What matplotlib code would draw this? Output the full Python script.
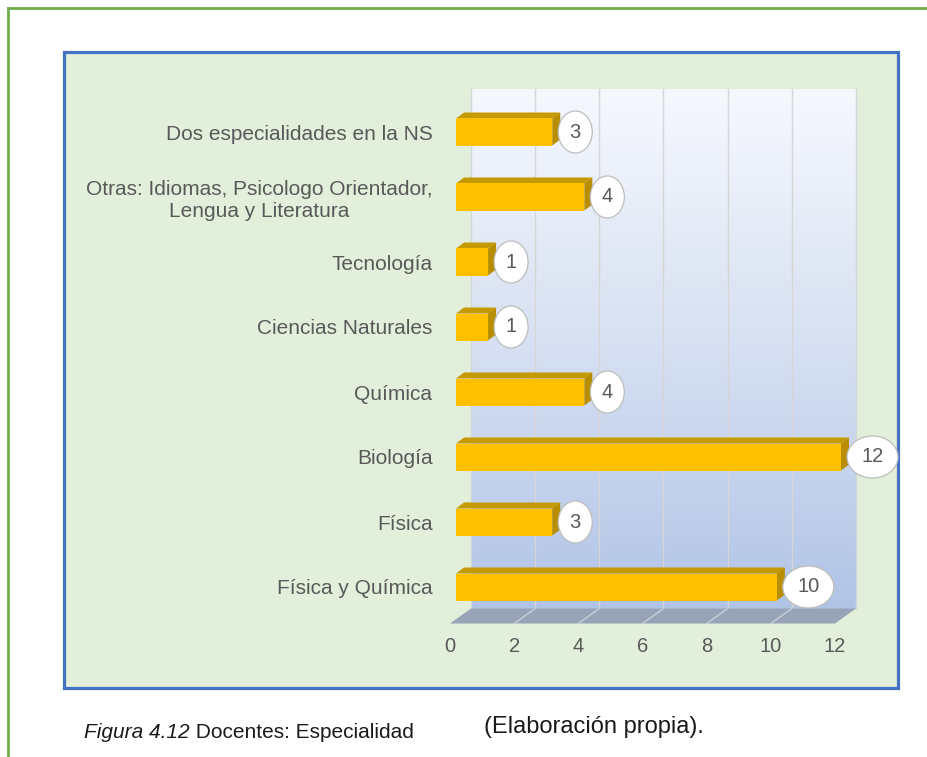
import numpy as np
import matplotlib
matplotlib.use("Agg")
import matplotlib.pyplot as plt
from matplotlib.patches import Rectangle, Polygon, Ellipse
from matplotlib.lines import Line2D
from matplotlib.transforms import ScaledTranslation
from matplotlib.colors import LinearSegmentedColormap

# data, bottom to top
categories = [
    "Física y Química",
    "Física",
    "Biología",
    "Química",
    "Ciencias Naturales",
    "Tecnología",
    "Otras: Idiomas, Psicologo Orientador,\nLengua y Literatura",
    "Dos especialidades en la NS",
]
values = [10, 3, 12, 4, 1, 1, 4, 3]
xticks = [0, 2, 4, 6, 8, 10, 12]

W, H = 928, 757
plt.rcParams['font.family'] = ['Liberation Sans', 'DejaVu Sans']
fig = plt.figure(figsize=(W / 100, H / 100), dpi=100)
fig.patch.set_facecolor('white')


def fx(px):
    return px / W


def fy(py):
    return 1 - py / H


# page frame and chart box
fig.add_artist(Line2D([fx(8), 1], [fy(8), fy(8)], color='#70AD47', lw=2, zorder=-2))
fig.add_artist(Line2D([fx(8), fx(8)], [fy(8), 0], color='#70AD47', lw=2, zorder=-2))
fig.add_artist(Rectangle((fx(64), fy(688)), fx(898) - fx(64), fy(52) - fy(688),
                         facecolor='#E2EFDA', edgecolor='#4472C4', lw=2.3, zorder=-1))

# axes = front plane of the bars
ax = fig.add_axes([fx(456), fy(619.5), 385 / W, 520 / H])
ax.set_zorder(2)
ax.patch.set_alpha(0)
for s in ax.spines.values():
    s.set_visible(False)

# pixel -> data unit helpers for the 3d offsets
PX_X = 12 / 385
PX_Y = 8 / 520
wdx, wdy = 15 * PX_X, 11 * PX_Y    # back wall
fdx, fdy = -6 * PX_X, -4 * PX_Y    # floor front edge
bdx, bdy = 8 * PX_X, 6 * PX_Y      # bar depth
bh = 27 * PX_Y                     # bar height
y0, y1 = -0.5, 7.5

# back wall gradient
grad = np.linspace(0, 1, 256).reshape(-1, 1)
cmap = LinearSegmentedColormap.from_list('wall', ['#B1C4E6', '#D6E0F2', '#F6F8FD'])
ax.imshow(grad, extent=(wdx, 12 + wdx, y0 + wdy, y1 + wdy), origin='lower',
          aspect='auto', cmap=cmap, zorder=0, clip_on=False)
for t in xticks:
    ax.plot([t + wdx, t + wdx], [y0 + wdy, y1 + wdy], color='#D6D6D6', lw=1, zorder=1, clip_on=False)

# floor
ax.add_patch(Polygon([(fdx, y0 + fdy), (12 + fdx, y0 + fdy), (12 + wdx, y0 + wdy), (wdx, y0 + wdy)],
                     closed=True, facecolor='#97A3B6', edgecolor='none', zorder=1, clip_on=False))
for t in xticks[1:-1]:
    ax.plot([t + fdx, t + wdx], [y0 + fdy, y0 + wdy], color='#C9CED8', lw=1, zorder=1, clip_on=False)

# bars
for i, v in enumerate(values):
    ax.add_patch(Polygon([(0, i + bh / 2), (v, i + bh / 2), (v + bdx, i + bh / 2 + bdy), (bdx, i + bh / 2 + bdy)],
                         facecolor='#C49A00', edgecolor='none', zorder=3, clip_on=False))
    ax.add_patch(Polygon([(v, i - bh / 2), (v + bdx, i - bh / 2 + bdy), (v + bdx, i + bh / 2 + bdy), (v, i + bh / 2)],
                         facecolor='#B88D00', edgecolor='none', zorder=3, clip_on=False))
    ax.add_patch(Rectangle((0, i - bh / 2), v, bh, facecolor='#FFC000', edgecolor='none', zorder=3, clip_on=False))

    # value bubble
    w = 34 if v < 10 else 51
    tr = fig.dpi_scale_trans + ScaledTranslation(v, i, ax.transData)
    ax.add_patch(Ellipse(((6 + w / 2) / 100, 0), w / 100, 42 / 100, transform=tr,
                         facecolor='white', edgecolor='#BDBDBD', lw=0.9, zorder=5, clip_on=False))
    ax.annotate(str(v), (v, i), xytext=(6 + w / 2, 0), textcoords='offset pixels',
                ha='center', va='center', fontsize=14.5, color='#595959', zorder=6)

# x tick labels under the floor front edge
for t in xticks:
    ax.annotate(str(t), (t, y0), xytext=(-6, -27), textcoords='offset pixels',
                ha='center', va='center', fontsize=14.5, color='#595959', annotation_clip=False)

ax.set_xticks([])
ax.set_yticks(range(len(categories)))
ax.set_yticklabels(categories, fontsize=15, color='#595959')
for lab in ax.get_yticklabels():
    lab.set_multialignment('center')
ax.tick_params(axis='y', length=0, pad=17)
ax.set_xlim(0, 12)
ax.set_ylim(y0, y1)

# caption
cap = fig.text(fx(84), fy(733), 'Figura 4.12', style='italic', fontsize=15,
               va='center', color='#1A1A1A')
ax.annotate(' Docentes: Especialidad', xy=(1, 0.5), xycoords=cap, va='center', ha='left',
            fontsize=15, color='#1A1A1A')
fig.text(fx(484), fy(727), '(Elaboración propia).', fontsize=17,
         va='center', color='#1A1A1A')

fig.savefig('out.png', dpi=100)
